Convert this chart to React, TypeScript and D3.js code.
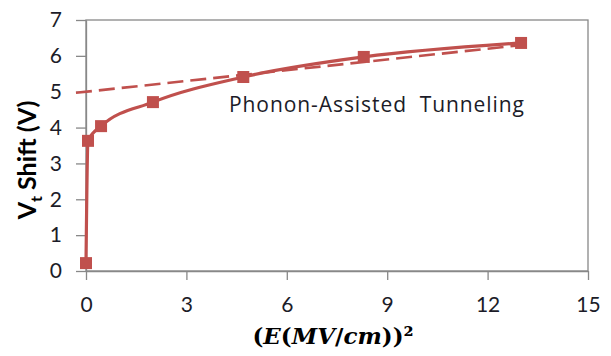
import React, { useEffect, useRef } from 'react'
import * as d3 from 'd3'

// measured points, x = E^2 (MV/cm)^2, y = Vt shift (V)
const fieldSq = [0, 0.06, 0.45, 2.0, 4.7, 8.3, 13.0]
const vtShift = [0.22, 3.63, 4.04, 4.71, 5.41, 5.97, 6.36]

// linear fit drawn dashed (phonon-assisted part)
const fitX = [-0.3, 13.0]
const fitY = [4.97, 6.3]

const xTicks = [0, 3, 6, 9, 12, 15]
const yTicks = [0, 1, 2, 3, 4, 5, 6, 7]

const W = 611
const H = 356
const margin = { top: 20, right: 23, bottom: 85, left: 86 }
const RED = '#C0504D'
const AXIS = '#888888'
const FONT = 'Lato, "Open Sans", sans-serif'

const App = () => {
  const svgRef = useRef<SVGSVGElement>(null)

  useEffect(() => {
    const svg = d3.select(svgRef.current)
    svg.selectAll('*').remove()

    const x = d3.scaleLinear().domain([0, 15]).range([margin.left, W - margin.right])
    const y = d3.scaleLinear().domain([0, 7]).range([H - margin.bottom, margin.top])

    // plot frame
    svg.append('rect')
      .attr('x', x(0)).attr('y', y(7))
      .attr('width', x(15) - x(0)).attr('height', y(0) - y(7))
      .attr('fill', 'none').attr('stroke', AXIS).attr('stroke-width', 1.3)

    const xAxis = d3.axisBottom(x).tickValues(xTicks).tickFormat(d3.format('d')).tickSize(9).tickPadding(17).tickSizeOuter(0)
    const gx = svg.append('g').attr('transform', `translate(0,${y(0)})`).call(xAxis)
    const yAxis = d3.axisLeft(y).tickValues(yTicks).tickFormat(d3.format('d')).tickSize(10).tickPadding(14).tickSizeOuter(0)
    const gy = svg.append('g').attr('transform', `translate(${x(0)},0)`).call(yAxis)

    ;[gx, gy].forEach(g => {
      g.select('.domain').attr('stroke', AXIS).attr('stroke-width', 1.3)
      g.selectAll('.tick line').attr('stroke', AXIS).attr('stroke-width', 1.3)
      g.selectAll('.tick text')
        .attr('fill', '#1c1c28')
        .style('font-family', FONT)
        .style('font-size', '21px')
    })

    // dashed fit line
    const fit = fitX.map((v, i) => [v, fitY[i]] as [number, number])
    svg.append('path')
      .attr('d', d3.line()(fit.map(d => [x(d[0]), y(d[1])])))
      .attr('fill', 'none').attr('stroke', RED)
      .attr('stroke-width', 2.6).attr('stroke-dasharray', '16 7')

    const pts = fieldSq.map((v, i) => [x(v), y(vtShift[i])] as [number, number])
    const smooth = d3.line().curve(d3.curveMonotoneX)
    svg.append('path')
      .attr('d', smooth(pts))
      .attr('fill', 'none').attr('stroke', RED).attr('stroke-width', 3.2)

    svg.append('g').selectAll('rect')
      .data(pts)
      .join('rect')
      .attr('x', d => d[0] - 6).attr('y', d => d[1] - 6)
      .attr('width', 12).attr('height', 12)
      .attr('fill', RED)

    svg.append('text')
      .attr('x', 229).attr('y', 112)
      .attr('fill', '#1c1c28')
      .attr('textLength', 295).attr('lengthAdjust', 'spacing')
      .style('font-family', '"Open Sans", sans-serif').style('font-size', '21px')
      .style('white-space', 'pre')
      .text('Phonon-Assisted  Tunneling')

    // y title
    const yt = svg.append('text')
      .attr('transform', 'translate(36,160) rotate(-90)')
      .attr('text-anchor', 'middle')
      .attr('fill', '#000')
      .style('font-family', FONT).style('font-size', '25px').style('font-weight', 'bold')
    yt.append('tspan').text('V')
    yt.append('tspan').attr('dy', 6).style('font-size', '16px').text('t')
    yt.append('tspan').attr('dy', -6).text(' Shift (V)')

    // x title
    const xt = svg.append('text')
      .attr('x', 333).attr('y', 344)
      .attr('text-anchor', 'middle')
      .attr('fill', '#000')
      .style('font-family', '"DejaVu Serif", serif').style('font-size', '23px').style('font-weight', 'bold')
    xt.append('tspan').text('(')
    xt.append('tspan').style('font-style', 'italic').text('E')
    xt.append('tspan').text('(')
    xt.append('tspan').style('font-style', 'italic').text('MV')
    xt.append('tspan').text('/')
    xt.append('tspan').style('font-style', 'italic').text('cm')
    xt.append('tspan').text('))²')
  }, [])

  return <svg ref={svgRef} width={W} height={H} style={{ display: 'block', position: 'absolute', left: 0, top: 0 }} />
}

export default App
